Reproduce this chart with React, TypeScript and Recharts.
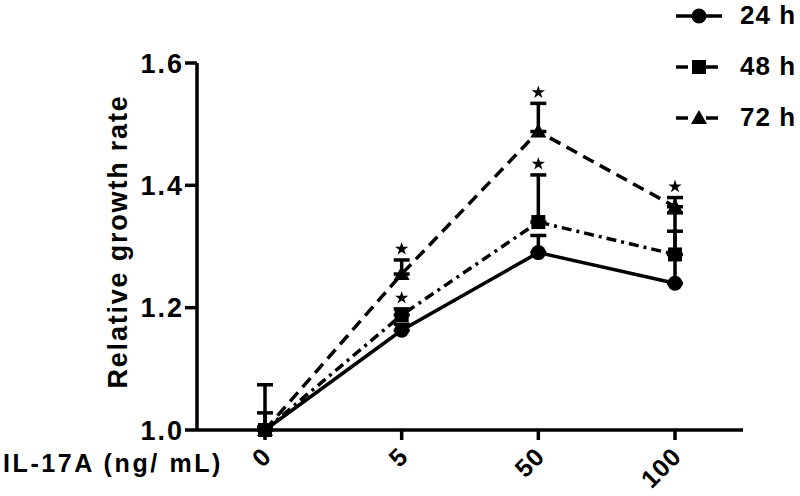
import React from "react";
import {
  ComposedChart,
  ErrorBar,
  Legend,
  Line,
  Scatter,
  Symbols,
  XAxis,
  YAxis,
} from "recharts";

const doses = ["0", "5", "50", "100"];

const mean24 = [1.0, 1.163, 1.29, 1.24];
const mean48 = [1.0, 1.188, 1.34, 1.287];
const mean72 = [1.0, 1.255, 1.488, 1.365];

// upper error only (GraphPad style)
const err24 = [0.028, 0.01, 0.028, 0.085];
const err48 = [0.074, 0.01, 0.077, 0.068];
const err72 = [0.005, 0.023, 0.046, 0.015];

// asterisks drawn above the error caps
const sig48 = [false, true, true, false];
const sig72 = [false, true, true, true];

const yTicks = [1.0, 1.2, 1.4, 1.6];

const data = doses.map((dose, i) => ({
  dose,
  h24: mean24[i],
  h48: mean48[i],
  h72: mean72[i],
  e24: [0, err24[i]],
  e48: [0, err48[i]],
  e72: [0, err72[i]],
  s48: sig48[i] ? mean48[i] + err48[i] : null,
  s72: sig72[i] ? mean72[i] + err72[i] : null,
}));

const FONT = "'Liberation Sans', Arial, Helvetica, sans-serif";

const series = [
  { key: "h24", err: "e24", name: "24 h", kind: "circle", dash: undefined },
  { key: "h48", err: "e48", name: "48 h", kind: "square", dash: "10 5 3 5" },
  { key: "h72", err: "e72", name: "72 h", kind: "triangle", dash: "12 7" },
];

const Marker = ({ cx, cy, kind }: any) => {
  if (cx == null || cy == null || isNaN(cy)) return null;
  if (kind === "circle") return <circle cx={cx} cy={cy} r={7.5} fill="#000" />;
  if (kind === "square")
    return <rect x={cx - 7} y={cy - 7} width={14} height={14} fill="#000" />;
  return (
    <polygon
      points={`${cx},${cy - 8} ${cx + 8},${cy + 6} ${cx - 8},${cy + 6}`}
      fill="#000"
    />
  );
};

const Star = ({ cx, cy, payload, field }: any) => {
  if (cx == null || cy == null || payload[field] == null) return <g />;
  return <Symbols cx={cx} cy={cy - 11} type="star" size={55} fill="#000" />;
};

const XTick = ({ x, y, payload }: any) => (
  <g transform={`translate(${x + 8},${y + 16})`}>
    <text
      transform="rotate(-45)"
      textAnchor="end"
      fontFamily={FONT}
      fontWeight="bold"
      fontSize={25}
      letterSpacing={1}
      fill="#000"
    >
      {payload.value}
    </text>
  </g>
);

const YTick = ({ x, y, payload }: any) => (
  <text
    x={x + 2}
    y={y}
    dy="0.36em"
    textAnchor="end"
    fontFamily={FONT}
    fontWeight="bold"
    fontSize={27}
    letterSpacing={2}
    fill="#000"
  >
    {payload.value.toFixed(1)}
  </text>
);

const LegendContent = () => (
  <div style={{ fontFamily: FONT, fontWeight: "bold", fontSize: 26 }}>
    {series.map((s) => (
      <div
        key={s.key}
        style={{ display: "flex", alignItems: "center", height: 51 }}
      >
        <svg width={46} height={22} style={{ marginRight: 18 }}>
          <line
            x1={0}
            y1={11}
            x2={46}
            y2={11}
            stroke="#000"
            strokeWidth={3.5}
            strokeDasharray={s.dash ? "12 7 4 7" : undefined}
          />
          <Marker cx={23} cy={11} kind={s.kind} />
        </svg>
        <span style={{ letterSpacing: 1 }}>{s.name}</span>
      </div>
    ))}
  </div>
);

export default function App() {
  return (
    <div style={{ position: "absolute", left: 0, top: 0 }}>
      <ComposedChart
        width={800}
        height={496}
        data={data}
        margin={{ top: 63, right: 57, bottom: 26, left: 117 }}
      >
        <XAxis
          dataKey="dose"
          type="category"
          height={40}
          padding={{ left: 68, right: 68 }}
          axisLine={{ stroke: "#000", strokeWidth: 3.5 }}
          tickLine={{ stroke: "#000", strokeWidth: 3.5 }}
          tickSize={10}
          tick={<XTick />}
          interval={0}
          label={{
            content: ({ viewBox }: any) => (
              <text
                x={3}
                y={viewBox.y + 42}
                fontFamily={FONT}
                fontWeight="bold"
                fontSize={25}
                letterSpacing={2.6}
                fill="#000"
              >
                {"IL-17A  (ng/ mL)"}
              </text>
            ),
          }}
        />
        <YAxis
          type="number"
          domain={[1.0, 1.6]}
          ticks={yTicks}
          width={80}
          axisLine={{ stroke: "#000", strokeWidth: 3.5 }}
          tickLine={{ stroke: "#000", strokeWidth: 3.5 }}
          tickSize={12}
          tickMargin={3}
          tick={<YTick />}
          label={{
            content: ({ viewBox }: any) => {
              const cx = viewBox.x + 1;
              const cy = viewBox.y + viewBox.height / 2 - 5;
              return (
                <text
                  x={cx}
                  y={cy}
                  transform={`rotate(-90, ${cx}, ${cy})`}
                  textAnchor="middle"
                  dominantBaseline="central"
                  fontFamily={FONT}
                  fontWeight="bold"
                  fontSize={27}
                  letterSpacing={1.8}
                  fill="#000"
                >
                  Relative growth rate
                </text>
              );
            },
          }}
        />
        <Legend
          layout="horizontal"
          verticalAlign="middle"
          align="center"
          content={<LegendContent />}
          wrapperStyle={{ top: -10, left: 676, width: 124 }}
        />
        {series.map((s) => (
          <Line
            key={s.key}
            dataKey={s.key}
            name={s.name}
            stroke="#000"
            strokeWidth={3.5}
            strokeDasharray={s.dash}
            isAnimationActive={false}
            dot={(p: any) => <Marker key={`${s.key}-${p.index}`} {...p} kind={s.kind} />}
            activeDot={false}
          >
            <ErrorBar
              dataKey={s.err}
              direction="y"
              width={8}
              stroke="#000"
              strokeWidth={3.5}
              isAnimationActive={false}
            />
          </Line>
        ))}
        <Scatter
          dataKey="s48"
          isAnimationActive={false}
          legendType="none"
          shape={(p: any) => <Star {...p} field="s48" />}
        />
        <Scatter
          dataKey="s72"
          isAnimationActive={false}
          legendType="none"
          shape={(p: any) => <Star {...p} field="s72" />}
        />
      </ComposedChart>
    </div>
  );
}
